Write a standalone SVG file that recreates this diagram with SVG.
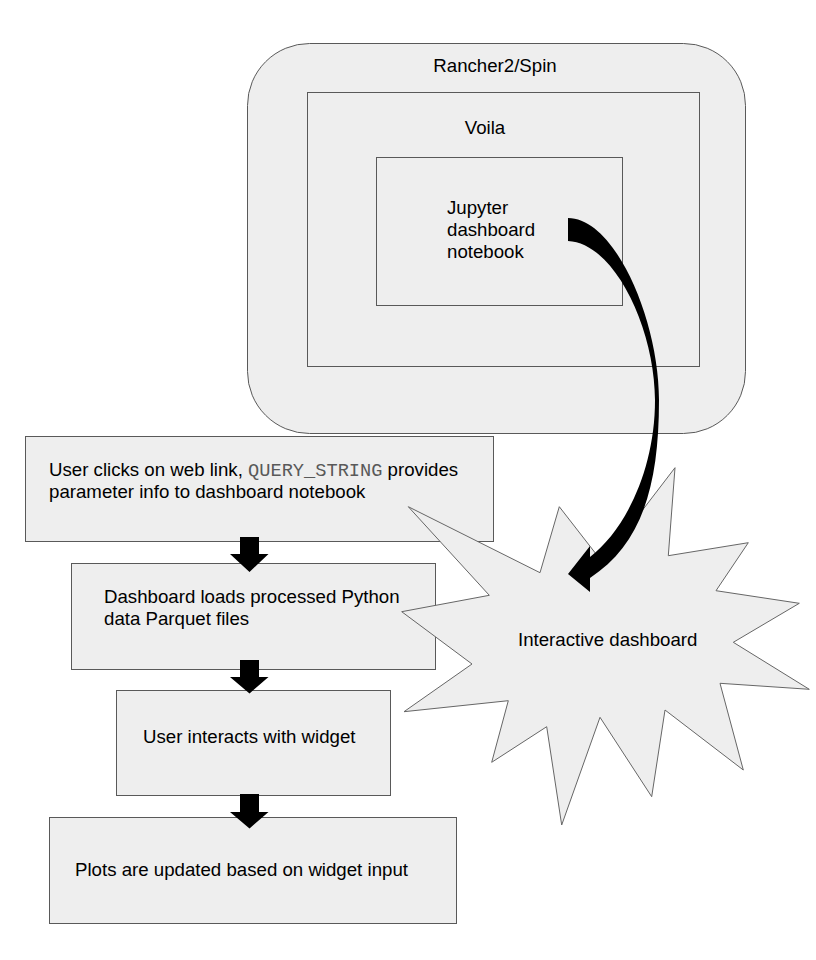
<svg xmlns="http://www.w3.org/2000/svg" width="816" height="960" viewBox="0 0 816 960">
<style>
.shape{fill:#eeeeee;stroke:#595959;stroke-width:1}
.star{fill:#eeeeee;stroke:#666666;stroke-width:1}
.t{font-family:"Liberation Sans",Arial,sans-serif;font-size:18.67px;fill:#000}
.m{font-family:"Liberation Mono","Courier New",monospace;fill:#595959}
.blk{fill:#000}
</style>
<rect width="816" height="960" fill="#ffffff"/>
<g id="rancher">
<rect class="shape" x="247.5" y="43.5" width="498" height="390" rx="62" ry="62"/>
<text class="t" x="495" y="72" text-anchor="middle">Rancher2/Spin</text>
</g>
<g id="voila">
<rect class="shape" x="307.5" y="92.5" width="392" height="274"/>
<text class="t" x="485" y="133.5" text-anchor="middle">Voila</text>
</g>
<g id="jupyter">
<rect class="shape" x="376.5" y="157.5" width="246" height="148"/>
<text class="t" x="447" y="214">Jupyter</text>
<text class="t" x="447" y="236">dashboard</text>
<text class="t" x="447" y="258">notebook</text>
</g>
<g id="step1">
<rect class="shape" x="25.5" y="436.5" width="468" height="105"/>
<text class="t" x="49" y="476">User clicks on web link, <tspan class="m">QUERY_STRING</tspan> provides</text>
<text class="t" x="49" y="498">parameter info to dashboard notebook</text>
</g>
<g id="step2">
<rect class="shape" x="71.5" y="563.5" width="364" height="106"/>
<text class="t" x="104" y="603">Dashboard loads processed Python</text>
<text class="t" x="104" y="624.5">data Parquet files</text>
</g>
<g id="step3">
<rect class="shape" x="116.5" y="690.5" width="274" height="105"/>
<text class="t" x="143" y="743">User interacts with widget</text>
</g>
<g id="step4">
<rect class="shape" x="49.5" y="817.5" width="407" height="106"/>
<text class="t" x="75" y="876">Plots are updated based on widget input</text>
</g>
<g id="dashboard">
<polygon class="star" points="675,467.7 668.3,555.7 748.3,542.7 716,590.7 799.3,603.3 733.3,642.3 809.3,689.3 720,683.3 743.3,770 665,710 651.7,796.7 600,717.3 561.7,825 546.7,726.7 491.7,762.3 508.3,700.7 404,711.7 472,664 401.7,611.7 489.3,595.3 408.3,506.7 540,572.7 559.3,506.7 602.5,562.3"/>
<text class="t" x="518" y="646">Interactive dashboard</text>
</g>
<g id="connectors">
<path class="blk" d="M240,537 H259 V554 H268.5 L249.5,572 L230,554 H240 Z"/>
<path class="blk" d="M240,660 H259 V677 H268.5 L249.5,693.5 L230,677 H240 Z"/>
<path class="blk" d="M240,794 H259 V812 H268.5 L249.5,828.5 L230,812 H240 Z"/>
<path class="blk" d="M568,218 C615,218 659,320 659,400 C659,490 640,545 590,578 L590,592 L568,574 L590,546 L590,557 C625,530 655,470 655,400 C655,330 615,243 568,241 Z"/>
</g>
</svg>
